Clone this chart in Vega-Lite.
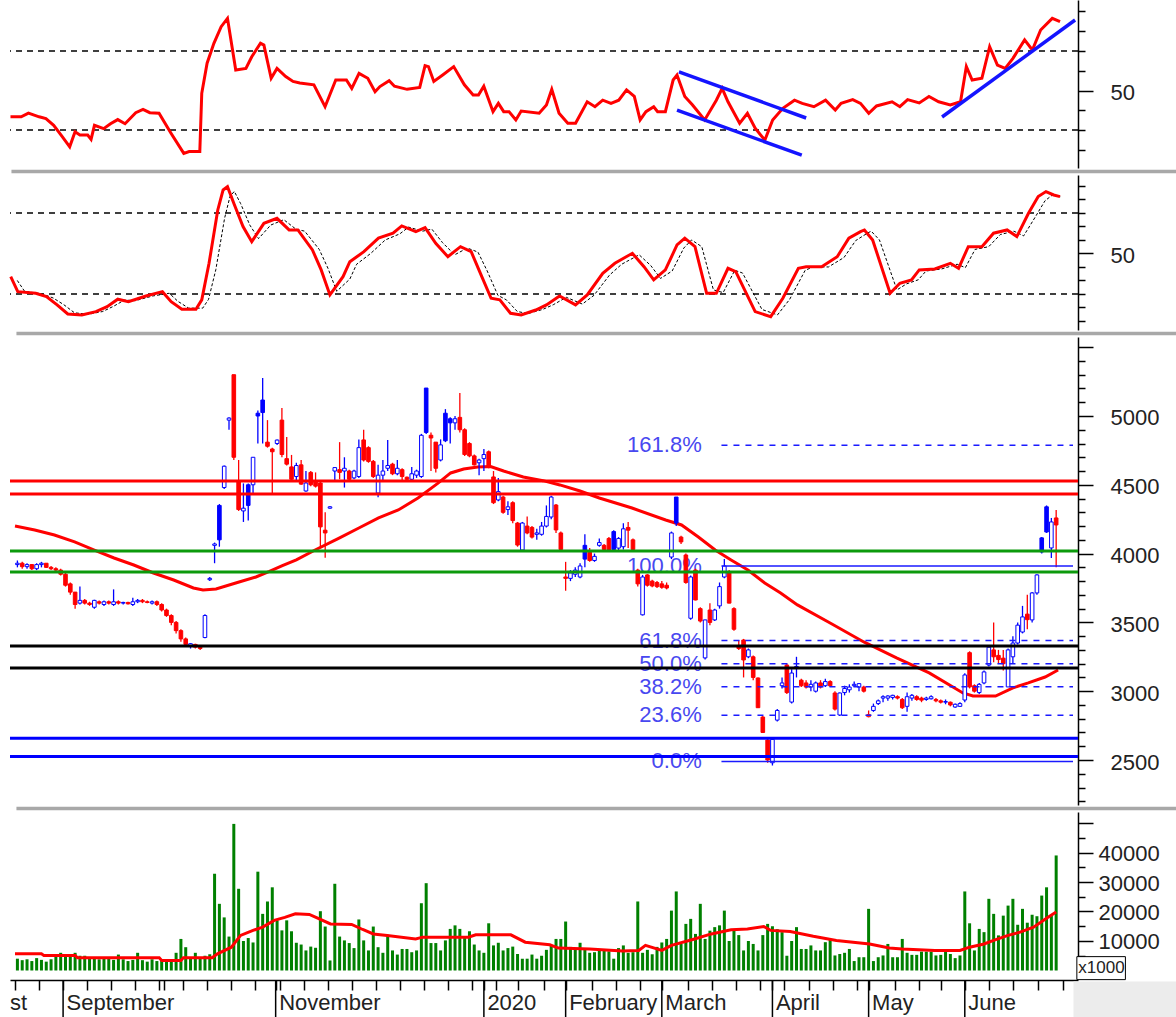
{
"$schema": "https://vega.github.io/schema/vega-lite/v6.json",
"padding": {"left": 4, "top": 0, "right": 0, "bottom": 0},
"background": "white",
"bounds": "flush",
"spacing": 7,
"config": {"view": {"stroke": null}, "font": "Liberation Sans", "axis": {"labelFont": "Liberation Sans"}},
"datasets": {
"candles": [
{"i":0,"o":3920,"h":3950,"l":3900,"c":3930,"v":4000},{"i":1,"o":3930,"h":3940,"l":3890,"c":3905,"v":3500},{"i":2,"o":3905,"h":3930,"l":3890,"c":3920,"v":3800},{"i":3,"o":3920,"h":3925,"l":3880,"c":3890,"v":3200},{"i":4,"o":3890,"h":3930,"l":3880,"c":3920,"v":4200},{"i":5,"o":3920,"h":3940,"l":3900,"c":3930,"v":3600},{"i":6,"o":3930,"h":3930,"l":3895,"c":3900,"v":3000},{"i":7,"o":3900,"h":3910,"l":3880,"c":3890,"v":3800},{"i":8,"o":3890,"h":3900,"l":3870,"c":3880,"v":4600},{"i":9,"o":3880,"h":3890,"l":3840,"c":3850,"v":6000},
{"i":10,"o":3850,"h":3860,"l":3760,"c":3770,"v":4800},{"i":11,"o":3780,"h":3790,"l":3700,"c":3720,"v":5500},{"i":12,"o":3720,"h":3720,"l":3600,"c":3630,"v":6000},{"i":13,"o":3640,"h":3760,"l":3630,"c":3660,"v":5000},{"i":14,"o":3660,"h":3670,"l":3630,"c":3640,"v":5000},{"i":15,"o":3640,"h":3650,"l":3620,"c":3630,"v":4500},{"i":16,"o":3610,"h":3665,"l":3600,"c":3660,"v":4000},{"i":17,"o":3650,"h":3660,"l":3630,"c":3640,"v":3800},{"i":18,"o":3630,"h":3660,"l":3620,"c":3650,"v":4200},{"i":19,"o":3650,"h":3660,"l":3630,"c":3640,"v":4000},
{"i":20,"o":3630,"h":3740,"l":3620,"c":3650,"v":3600},{"i":21,"o":3650,"h":3660,"l":3630,"c":3640,"v":5400},{"i":22,"o":3640,"h":3650,"l":3630,"c":3645,"v":3800},{"i":23,"o":3645,"h":3650,"l":3630,"c":3635,"v":3200},{"i":24,"o":3630,"h":3680,"l":3620,"c":3650,"v":3600},{"i":25,"o":3650,"h":3670,"l":3640,"c":3660,"v":6000},{"i":26,"o":3660,"h":3670,"l":3640,"c":3650,"v":3500},{"i":27,"o":3650,"h":3660,"l":3640,"c":3645,"v":3000},{"i":28,"o":3640,"h":3660,"l":3630,"c":3650,"v":3800},{"i":29,"o":3650,"h":3660,"l":3620,"c":3630,"v":3200},
{"i":30,"o":3630,"h":3640,"l":3580,"c":3590,"v":3500},{"i":31,"o":3590,"h":3600,"l":3540,"c":3550,"v":3000},{"i":32,"o":3550,"h":3560,"l":3480,"c":3500,"v":3600},{"i":33,"o":3500,"h":3510,"l":3420,"c":3440,"v":6000},{"i":34,"o":3440,"h":3450,"l":3360,"c":3380,"v":10700},{"i":35,"o":3380,"h":3390,"l":3330,"c":3340,"v":7900},{"i":36,"o":3330,"h":3350,"l":3310,"c":3345,"v":4500},{"i":37,"o":3340,"h":3345,"l":3310,"c":3320,"v":6000},{"i":38,"o":3320,"h":3330,"l":3300,"c":3310,"v":4500},{"i":39,"o":3390,"h":3560,"l":3385,"c":3550,"v":5000},
{"i":40,"o":3810,"h":3830,"l":3800,"c":3820,"v":5500},{"i":41,"o":4060,"h":4080,"l":3930,"c":4070,"v":32800},{"i":42,"o":4350,"h":4360,"l":4050,"c":4100,"v":22600},{"i":43,"o":4480,"h":4640,"l":4470,"c":4635,"v":18000},{"i":44,"o":4970,"h":4990,"l":4900,"c":4985,"v":11500},{"i":45,"o":5300,"h":5300,"l":4680,"c":4700,"v":49700},{"i":46,"o":4520,"h":4680,"l":4310,"c":4320,"v":27700},{"i":47,"o":4310,"h":4510,"l":4230,"c":4330,"v":10000},{"i":48,"o":4500,"h":4510,"l":4240,"c":4350,"v":11000},{"i":49,"o":4500,"h":4700,"l":4440,"c":4700,"v":9500},
{"i":50,"o":5020,"h":5040,"l":4800,"c":5000,"v":33500},{"i":51,"o":5116,"h":5276,"l":4800,"c":5025,"v":19200},{"i":52,"o":4810,"h":4970,"l":4770,"c":4780,"v":23400},{"i":53,"o":4760,"h":4770,"l":4440,"c":4740,"v":28200},{"i":54,"o":4800,"h":4830,"l":4790,"c":4825,"v":17000},{"i":55,"o":4970,"h":5058,"l":4700,"c":4720,"v":13600},{"i":56,"o":4690,"h":4848,"l":4640,"c":4650,"v":17000},{"i":57,"o":4630,"h":4717,"l":4535,"c":4540,"v":13300},{"i":58,"o":4560,"h":4660,"l":4535,"c":4640,"v":9400},{"i":59,"o":4645,"h":4680,"l":4500,"c":4505,"v":8800},
{"i":60,"o":4455,"h":4600,"l":4450,"c":4513,"v":6800},{"i":61,"o":4590,"h":4600,"l":4490,"c":4500,"v":8100},{"i":62,"o":4520,"h":4590,"l":4480,"c":4490,"v":7700},{"i":63,"o":4513,"h":4520,"l":4050,"c":4194,"v":20100},{"i":64,"o":4170,"h":4300,"l":3970,"c":4150,"v":14900},{"i":65,"o":4330,"h":4345,"l":4325,"c":4340,"v":3400},{"i":66,"o":4600,"h":4630,"l":4535,"c":4625,"v":29400},{"i":67,"o":4610,"h":4810,"l":4540,"c":4590,"v":11500},{"i":68,"o":4600,"h":4700,"l":4480,"c":4620,"v":10200},{"i":69,"o":4600,"h":4610,"l":4530,"c":4540,"v":9300},
{"i":70,"o":4550,"h":4610,"l":4540,"c":4600,"v":7600},{"i":71,"o":4560,"h":4830,"l":4550,"c":4770,"v":17300},{"i":72,"o":4826,"h":4900,"l":4670,"c":4680,"v":10200},{"i":73,"o":4770,"h":4780,"l":4660,"c":4670,"v":6800},{"i":74,"o":4670,"h":4680,"l":4550,"c":4560,"v":14900},{"i":75,"o":4440,"h":4645,"l":4410,"c":4570,"v":7900},{"i":76,"o":4570,"h":4680,"l":4530,"c":4600,"v":6000},{"i":77,"o":4620,"h":4826,"l":4600,"c":4640,"v":12100},{"i":78,"o":4650,"h":4660,"l":4570,"c":4580,"v":6800},{"i":79,"o":4580,"h":4680,"l":4570,"c":4620,"v":5400},
{"i":80,"o":4610,"h":4620,"l":4530,"c":4560,"v":7300},{"i":81,"o":4555,"h":4560,"l":4530,"c":4540,"v":7300},{"i":82,"o":4540,"h":4630,"l":4530,"c":4580,"v":6200},{"i":83,"o":4570,"h":4610,"l":4550,"c":4600,"v":6800},{"i":84,"o":4560,"h":4870,"l":4550,"c":4860,"v":22800},{"i":85,"o":5203,"h":5203,"l":4870,"c":4880,"v":29600},{"i":86,"o":4860,"h":4880,"l":4600,"c":4840,"v":9300},{"i":87,"o":4810,"h":4810,"l":4590,"c":4620,"v":9300},{"i":88,"o":4680,"h":4830,"l":4670,"c":4790,"v":6800},{"i":89,"o":5020,"h":5050,"l":4810,"c":4820,"v":10200},
{"i":90,"o":4980,"h":4990,"l":4800,"c":4950,"v":14100},{"i":91,"o":4950,"h":5000,"l":4900,"c":4980,"v":15300},{"i":92,"o":4990,"h":5167,"l":4880,"c":4900,"v":14100},{"i":93,"o":4900,"h":4910,"l":4710,"c":4720,"v":11000},{"i":94,"o":4800,"h":4810,"l":4700,"c":4710,"v":13300},{"i":95,"o":4710,"h":4720,"l":4640,"c":4645,"v":8800},{"i":96,"o":4660,"h":4690,"l":4570,"c":4680,"v":6800},{"i":97,"o":4690,"h":4760,"l":4600,"c":4720,"v":6000},{"i":98,"o":4740,"h":4750,"l":4620,"c":4630,"v":16000},{"i":99,"o":4557,"h":4600,"l":4360,"c":4370,"v":8500},
{"i":100,"o":4390,"h":4550,"l":4380,"c":4450,"v":9400},{"i":101,"o":4411,"h":4420,"l":4290,"c":4300,"v":6800},{"i":102,"o":4320,"h":4380,"l":4280,"c":4340,"v":7600},{"i":103,"o":4370,"h":4380,"l":4220,"c":4240,"v":8100},{"i":104,"o":4222,"h":4230,"l":4050,"c":4062,"v":5600},{"i":105,"o":4026,"h":4230,"l":4020,"c":4222,"v":4000},{"i":106,"o":4200,"h":4270,"l":4140,"c":4150,"v":4000},{"i":107,"o":4190,"h":4200,"l":4110,"c":4120,"v":5400},{"i":108,"o":4140,"h":4180,"l":4100,"c":4150,"v":4000},{"i":109,"o":4140,"h":4230,"l":4130,"c":4200,"v":5000},
{"i":110,"o":4200,"h":4350,"l":4190,"c":4270,"v":7000},{"i":111,"o":4266,"h":4420,"l":4250,"c":4411,"v":8500},{"i":112,"o":4353,"h":4360,"l":4150,"c":4172,"v":10700},{"i":113,"o":4150,"h":4160,"l":4020,"c":4030,"v":10700},{"i":114,"o":3830,"h":3940,"l":3730,"c":3820,"v":16600},{"i":115,"o":3820,"h":3880,"l":3800,"c":3860,"v":8000},{"i":116,"o":3850,"h":3900,"l":3830,"c":3880,"v":7000},{"i":117,"o":3830,"h":3930,"l":3820,"c":3910,"v":9400},{"i":118,"o":4060,"h":4140,"l":3900,"c":3960,"v":7600},{"i":119,"o":4010,"h":4040,"l":3940,"c":3950,"v":6000},
{"i":120,"o":3950,"h":4000,"l":3940,"c":3980,"v":6200},{"i":121,"o":4060,"h":4110,"l":4050,"c":4080,"v":7000},{"i":122,"o":4060,"h":4070,"l":4020,"c":4030,"v":7200},{"i":123,"o":4110,"h":4120,"l":4020,"c":4025,"v":6500},{"i":124,"o":4160,"h":4170,"l":4020,"c":4030,"v":4000},{"i":125,"o":4040,"h":4120,"l":4020,"c":4110,"v":7600},{"i":126,"o":4050,"h":4220,"l":4030,"c":4180,"v":8500},{"i":127,"o":4190,"h":4230,"l":4040,"c":4170,"v":6000},{"i":128,"o":4100,"h":4110,"l":4020,"c":4030,"v":6200},{"i":129,"o":3880,"h":3890,"l":3760,"c":3780,"v":23400},
{"i":130,"o":3555,"h":3845,"l":3550,"c":3830,"v":6000},{"i":131,"o":3845,"h":3850,"l":3760,"c":3770,"v":7000},{"i":132,"o":3800,"h":3810,"l":3755,"c":3765,"v":5500},{"i":133,"o":3790,"h":3800,"l":3750,"c":3760,"v":8000},{"i":134,"o":3780,"h":3800,"l":3745,"c":3755,"v":9500},{"i":135,"o":3770,"h":3790,"l":3740,"c":3750,"v":10700},{"i":136,"o":3975,"h":4160,"l":3960,"c":4150,"v":20300},{"i":137,"o":4411,"h":4411,"l":4200,"c":4222,"v":26800},{"i":138,"o":4120,"h":4130,"l":4070,"c":4085,"v":9000},{"i":139,"o":3990,"h":4000,"l":3780,"c":3790,"v":15800},
{"i":140,"o":3530,"h":3840,"l":3520,"c":3830,"v":17500},{"i":141,"o":3880,"h":3890,"l":3660,"c":3663,"v":12400},{"i":142,"o":3600,"h":3610,"l":3500,"c":3510,"v":22600},{"i":143,"o":3242,"h":3520,"l":3230,"c":3518,"v":10700},{"i":144,"o":3590,"h":3640,"l":3480,"c":3500,"v":13500},{"i":145,"o":3518,"h":3600,"l":3510,"c":3590,"v":14700},{"i":146,"o":3620,"h":3790,"l":3600,"c":3760,"v":15300},{"i":147,"o":3830,"h":3960,"l":3820,"c":3910,"v":20300},{"i":148,"o":3860,"h":3880,"l":3640,"c":3640,"v":10000},{"i":149,"o":3600,"h":3610,"l":3440,"c":3450,"v":14000},
{"i":150,"o":3330,"h":3370,"l":3300,"c":3310,"v":12000},{"i":151,"o":3372,"h":3380,"l":3100,"c":3227,"v":6800},{"i":152,"o":3250,"h":3310,"l":3240,"c":3300,"v":10000},{"i":153,"o":3250,"h":3260,"l":3080,"c":3100,"v":9000},{"i":154,"o":3096,"h":3100,"l":2878,"c":2880,"v":6800},{"i":155,"o":2812,"h":2820,"l":2696,"c":2700,"v":12000},{"i":156,"o":2645,"h":2660,"l":2480,"c":2500,"v":15800},{"i":157,"o":2480,"h":2660,"l":2460,"c":2650,"v":15000},{"i":158,"o":2790,"h":2870,"l":2780,"c":2860,"v":14000},{"i":159,"o":3040,"h":3100,"l":3020,"c":3060,"v":13000},
{"i":160,"o":3190,"h":3200,"l":2980,"c":2990,"v":5000},{"i":161,"o":2921,"h":3160,"l":2910,"c":3132,"v":10000},{"i":162,"o":3170,"h":3250,"l":3100,"c":3180,"v":14700},{"i":163,"o":3080,"h":3090,"l":3030,"c":3040,"v":7300},{"i":164,"o":3060,"h":3080,"l":3020,"c":3030,"v":7300},{"i":165,"o":3030,"h":3080,"l":3000,"c":3050,"v":8500},{"i":166,"o":3000,"h":3070,"l":2990,"c":3060,"v":6800},{"i":167,"o":3060,"h":3080,"l":3020,"c":3030,"v":6800},{"i":168,"o":3040,"h":3090,"l":3030,"c":3070,"v":9600},{"i":169,"o":3070,"h":3080,"l":3030,"c":3040,"v":10700},
{"i":170,"o":2987,"h":3000,"l":2860,"c":2870,"v":5100},{"i":171,"o":2827,"h":2990,"l":2820,"c":2987,"v":5600},{"i":172,"o":2990,"h":3040,"l":2970,"c":3020,"v":6000},{"i":173,"o":3010,"h":3050,"l":2990,"c":3030,"v":7300},{"i":174,"o":3040,"h":3070,"l":3030,"c":3050,"v":3200},{"i":175,"o":3030,"h":3060,"l":3000,"c":3055,"v":4500},{"i":176,"o":3030,"h":3040,"l":2990,"c":3000,"v":4500},{"i":177,"o":2815,"h":2860,"l":2810,"c":2830,"v":20900},{"i":178,"o":2860,"h":2910,"l":2850,"c":2890,"v":3200},{"i":179,"o":2910,"h":2940,"l":2900,"c":2930,"v":4500},
{"i":180,"o":2950,"h":2970,"l":2920,"c":2960,"v":5100},{"i":181,"o":2950,"h":2970,"l":2930,"c":2965,"v":9000},{"i":182,"o":2955,"h":2975,"l":2940,"c":2970,"v":4500},{"i":183,"o":2960,"h":2970,"l":2940,"c":2950,"v":4500},{"i":184,"o":2940,"h":2950,"l":2870,"c":2880,"v":10700},{"i":185,"o":2890,"h":2990,"l":2850,"c":2960,"v":6000},{"i":186,"o":2950,"h":2980,"l":2930,"c":2970,"v":5300},{"i":187,"o":2960,"h":2970,"l":2930,"c":2940,"v":5300},{"i":188,"o":2950,"h":2960,"l":2920,"c":2935,"v":6400},{"i":189,"o":2940,"h":2960,"l":2930,"c":2950,"v":6400},
{"i":190,"o":2945,"h":2970,"l":2940,"c":2960,"v":6400},{"i":191,"o":2940,"h":2950,"l":2920,"c":2930,"v":5100},{"i":192,"o":2930,"h":2940,"l":2910,"c":2920,"v":5300},{"i":193,"o":2920,"h":2940,"l":2905,"c":2925,"v":6400},{"i":194,"o":2920,"h":2925,"l":2890,"c":2900,"v":5600},{"i":195,"o":2885,"h":2910,"l":2880,"c":2905,"v":4200},{"i":196,"o":2890,"h":2920,"l":2885,"c":2910,"v":5100},{"i":197,"o":2936,"h":3130,"l":2920,"c":3118,"v":26800},{"i":198,"o":3280,"h":3290,"l":3020,"c":3031,"v":16000},{"i":199,"o":3040,"h":3050,"l":2990,"c":3000,"v":6800},
{"i":200,"o":2990,"h":3060,"l":2980,"c":3050,"v":14100},{"i":201,"o":3060,"h":3150,"l":3050,"c":3140,"v":13000},{"i":202,"o":3190,"h":3330,"l":3180,"c":3320,"v":24300},{"i":203,"o":3300,"h":3500,"l":3210,"c":3250,"v":19200},{"i":204,"o":3260,"h":3300,"l":3200,"c":3230,"v":11900},{"i":205,"o":3240,"h":3300,"l":3150,"c":3200,"v":18600},{"i":206,"o":3031,"h":3310,"l":3030,"c":3300,"v":22000},{"i":207,"o":3250,"h":3400,"l":3200,"c":3350,"v":24300},{"i":208,"o":3350,"h":3500,"l":3340,"c":3480,"v":15500},{"i":209,"o":3430,"h":3620,"l":3420,"c":3540,"v":20900},
{"i":210,"o":3560,"h":3700,"l":3450,"c":3520,"v":16200},{"i":211,"o":3518,"h":3720,"l":3500,"c":3714,"v":18900},{"i":212,"o":3714,"h":3850,"l":3700,"c":3845,"v":18400},{"i":213,"o":4114,"h":4120,"l":4000,"c":4012,"v":25400},{"i":214,"o":4340,"h":4350,"l":4150,"c":4157,"v":28200},{"i":215,"o":4041,"h":4259,"l":3968,"c":4230,"v":18600},{"i":216,"o":4259,"h":4317,"l":3900,"c":4208,"v":39000}
],
"rsi": [
{"t":-0.4,"r":36.7},{"t":1.8,"r":36.7},{"t":3.3,"r":38.6},{"t":5.5,"r":36.7},{"t":6.9,"r":35.8},{"t":8.5,"r":32.4},{"t":10.3,"r":26.6},{"t":11.8,"r":21.5},{"t":12.9,"r":29.1},{"t":13.9,"r":27.5},{"t":15.5,"r":27.5},{"t":16.2,"r":25.3},{"t":16.9,"r":32.4},{"t":18.8,"r":30.7},{"t":20.2,"r":33.2},{"t":21.7,"r":35.3},{"t":23.2,"r":33.2},{"t":25.4,"r":38.8},{"t":26.9,"r":40.5},{"t":28.3,"r":38.8},{"t":30.2,"r":38.5},{"t":32.7,"r":28.3},{"t":35.3,"r":18.2},{"t":36.4,"r":19.1},{"t":38.6,"r":19.1},{"t":39,"r":48.6},{"t":40.1,"r":63.8},{"t":41.5,"r":73.9},{"t":43,"r":82.3},{"t":44.3,"r":86.5},{"t":46,"r":60.4},{"t":48.1,"r":61.2},{"t":49.3,"r":67.1},{"t":51.1,"r":73.9},{"t":51.8,"r":73},{"t":53.3,"r":56.2},{"t":54.5,"r":61.2},{"t":56.3,"r":57.1},{"t":57.8,"r":54.6},{"t":59.2,"r":53.8},{"t":62.1,"r":52.9},{"t":64.4,"r":41.8},{"t":66.6,"r":55.3},{"t":68.8,"r":55.3},{"t":69.9,"r":51.1},{"t":71.4,"r":58.7},{"t":73.2,"r":56.2},{"t":74.7,"r":49.4},{"t":75.7,"r":52},{"t":77.6,"r":55},{"t":78.7,"r":52.2},{"t":81.3,"r":50.6},{"t":83.9,"r":51.6},{"t":85,"r":62.6},{"t":85.7,"r":62.1},{"t":86.8,"r":54.6},{"t":88.7,"r":58},{"t":90.9,"r":62.1},{"t":93.1,"r":52.9},{"t":94.9,"r":47.7},{"t":96,"r":47.7},{"t":97.1,"r":52.2},{"t":99,"r":39.3},{"t":100.1,"r":43.5},{"t":101.2,"r":39.3},{"t":102.3,"r":39.3},{"t":103.7,"r":35.1},{"t":104.8,"r":39.6},{"t":108.5,"r":38.5},{"t":110,"r":42.7},{"t":111.1,"r":50.6},{"t":112.6,"r":38.5},{"t":114.4,"r":33.4},{"t":116,"r":33.4},{"t":118.4,"r":44.3},{"t":120,"r":41.8},{"t":121.6,"r":45.1},{"t":123.3,"r":43.5},{"t":124.9,"r":45.1},{"t":126.5,"r":50.3},{"t":128.1,"r":47},{"t":129.3,"r":35.1},{"t":130.5,"r":39.3},{"t":132.1,"r":41.8},{"t":132.9,"r":39.3},{"t":134.5,"r":39.3},{"t":136.1,"r":55.3},{"t":136.9,"r":57.8},{"t":138.5,"r":47},{"t":140.1,"r":42.7},{"t":142.6,"r":35.1},{"t":145,"r":45.1},{"t":146.2,"r":51.1},{"t":147.4,"r":44.3},{"t":149.8,"r":33.4},{"t":151.4,"r":38.5},{"t":153,"r":30.9},{"t":155,"r":24.9},{"t":156.6,"r":35.1},{"t":158.7,"r":41},{"t":161.1,"r":45.1},{"t":162.7,"r":43.5},{"t":165.1,"r":41.8},{"t":167.5,"r":45.1},{"t":169.5,"r":40.1},{"t":170.7,"r":43.5},{"t":173.1,"r":45.4},{"t":174.7,"r":43.5},{"t":176.4,"r":38.5},{"t":178,"r":42.2},{"t":181.2,"r":44.3},{"t":182.8,"r":41.8},{"t":184.4,"r":45.4},{"t":186.8,"r":43.7},{"t":188.8,"r":47},{"t":190.8,"r":44.3},{"t":193.2,"r":42.7},{"t":195.3,"r":44.3},{"t":196.5,"r":62.1},{"t":197.7,"r":55.3},{"t":199.7,"r":56.2},{"t":201.3,"r":72.2},{"t":202.9,"r":62.9},{"t":204.5,"r":61.2},{"t":206.1,"r":66.3},{"t":208.5,"r":75.6},{"t":210.1,"r":70.5},{"t":211.8,"r":80.6},{"t":214.2,"r":86.5},{"t":215.8,"r":84.8}
],
"trend": [
{"s":"a","t":137.3,"r":59.4},{"s":"a","t":163.5,"r":36.1},{"s":"b","t":136.9,"r":40.1},{"s":"b","t":162.6,"r":17.3},{"s":"c","t":191.5,"r":36.6},{"s":"c","t":218.9,"r":85.7}
],
"stk": [
{"t":-0.35,"k":32.8},{"t":1.1,"k":21.7},{"t":4.8,"k":20.5},{"t":7,"k":18},{"t":9.2,"k":11.9},{"t":11.4,"k":5.2},{"t":14.3,"k":4.4},{"t":17.2,"k":6.9},{"t":19.5,"k":10.6},{"t":21.7,"k":16.1},{"t":23.9,"k":14.3},{"t":27.5,"k":18.5},{"t":30.9,"k":21.7},{"t":32.7,"k":14.3},{"t":34.9,"k":8.7},{"t":37.8,"k":8.7},{"t":39,"k":15.6},{"t":40.5,"k":42.7},{"t":42.3,"k":82.2},{"t":43.4,"k":97},{"t":44.3,"k":99.5},{"t":45.6,"k":87.2},{"t":47.5,"k":69.9},{"t":49.3,"k":58.7},{"t":51.8,"k":72.3},{"t":54.5,"k":76},{"t":57,"k":67.4},{"t":58.8,"k":67.4},{"t":61.8,"k":52.6},{"t":63.6,"k":37.8},{"t":65.4,"k":19.3},{"t":68.1,"k":32.8},{"t":69.5,"k":43.9},{"t":72.4,"k":51.3},{"t":75.4,"k":61.3},{"t":78.4,"k":65},{"t":80.2,"k":70.4},{"t":83.1,"k":66.2},{"t":85,"k":69.1},{"t":87.2,"k":57.5},{"t":89.7,"k":47.6},{"t":92.3,"k":55},{"t":94.5,"k":51.3},{"t":96.4,"k":35.3},{"t":98.6,"k":16.8},{"t":100.4,"k":15.6},{"t":102.6,"k":5.7},{"t":104.8,"k":4.4},{"t":107.8,"k":8.1},{"t":110,"k":11.9},{"t":112.7,"k":18.5},{"t":116,"k":11.9},{"t":118.4,"k":19.3},{"t":121.6,"k":35.3},{"t":124.1,"k":42.7},{"t":127.7,"k":50.1},{"t":130.1,"k":40.2},{"t":132.1,"k":30.4},{"t":134.5,"k":37.8},{"t":136.9,"k":56.3},{"t":138.5,"k":61.3},{"t":140.6,"k":55},{"t":143,"k":20.5},{"t":145,"k":20.5},{"t":147.4,"k":39},{"t":149,"k":36.5},{"t":153,"k":6.9},{"t":156.2,"k":3.2},{"t":158.7,"k":16.8},{"t":161.9,"k":39},{"t":163.5,"k":40.2},{"t":166.7,"k":40.2},{"t":169.9,"k":47.6},{"t":172.3,"k":61.3},{"t":174.7,"k":66.2},{"t":175.5,"k":67.4},{"t":177.2,"k":60},{"t":180.8,"k":20.5},{"t":182.8,"k":27.9},{"t":185.2,"k":30.4},{"t":186.8,"k":37.8},{"t":190,"k":38.5},{"t":193.2,"k":42.7},{"t":194.9,"k":39},{"t":196.9,"k":55},{"t":199.7,"k":55},{"t":202.1,"k":65},{"t":204.9,"k":67.4},{"t":206.9,"k":62.5},{"t":209.3,"k":79.8},{"t":211.3,"k":92.1},{"t":212.9,"k":95.8},{"t":214.5,"k":93.3},{"t":215.8,"k":92.1}
],
"std": [
{"t":1,"d":30},{"t":2.5,"d":22},{"t":6.2,"d":20},{"t":8.4,"d":17},{"t":10.6,"d":12},{"t":12.8,"d":6},{"t":15.7,"d":5},{"t":18.6,"d":7},{"t":20.9,"d":11},{"t":23.1,"d":15.5},{"t":25.3,"d":15},{"t":28.9,"d":18.5},{"t":32.3,"d":20.5},{"t":34.1,"d":14.5},{"t":36.3,"d":9.5},{"t":39.2,"d":9.5},{"t":40.4,"d":16},{"t":41.9,"d":38},{"t":43.7,"d":76},{"t":44.8,"d":92},{"t":45.7,"d":96},{"t":47,"d":87},{"t":48.9,"d":71},{"t":50.7,"d":61},{"t":53.2,"d":71},{"t":55.9,"d":75},{"t":58.4,"d":68},{"t":60.2,"d":66.5},{"t":63.2,"d":53},{"t":65,"d":39},{"t":66.8,"d":22},{"t":69.5,"d":31},{"t":70.9,"d":42},{"t":73.8,"d":50},{"t":76.8,"d":60},{"t":79.8,"d":64.5},{"t":81.6,"d":69.5},{"t":84.5,"d":66.5},{"t":86.4,"d":68},{"t":88.6,"d":58},{"t":91.1,"d":49},{"t":93.7,"d":54},{"t":95.9,"d":51},{"t":97.8,"d":37},{"t":100,"d":19},{"t":101.8,"d":15.5},{"t":104,"d":7},{"t":106.2,"d":5.5},{"t":109.2,"d":8.5},{"t":111.4,"d":12},{"t":114.1,"d":17.5},{"t":117.4,"d":12.5},{"t":119.8,"d":19},{"t":123,"d":34},{"t":125.5,"d":42},{"t":129.1,"d":49},{"t":131.5,"d":41},{"t":133.5,"d":31.5},{"t":135.9,"d":37},{"t":138.3,"d":54},{"t":139.9,"d":60},{"t":142,"d":55},{"t":144.4,"d":23},{"t":146.4,"d":21},{"t":148.8,"d":37.5},{"t":150.4,"d":35.5},{"t":154.4,"d":8.5},{"t":157.6,"d":4.5},{"t":160.1,"d":16},{"t":163.3,"d":37.5},{"t":164.9,"d":40},{"t":168.1,"d":40},{"t":171.3,"d":47},{"t":173.7,"d":59.5},{"t":176.1,"d":65},{"t":176.9,"d":66.5},{"t":178.6,"d":60},{"t":182.2,"d":23},{"t":184.2,"d":27.5},{"t":186.6,"d":30.5},{"t":188.2,"d":37},{"t":191.4,"d":38.5},{"t":194.6,"d":42},{"t":196.3,"d":39.5},{"t":198.3,"d":53},{"t":201.1,"d":55},{"t":203.5,"d":64},{"t":206.3,"d":66.5},{"t":208.3,"d":63},{"t":210.7,"d":77},{"t":212.7,"d":89},{"t":214.3,"d":93.5},{"t":215.9,"d":92}
],
"ma": [
{"t":-0.5,"m":4200},{"t":3.6,"m":4172},{"t":7.7,"m":4135},{"t":11.9,"m":4085},{"t":16,"m":4026},{"t":20.1,"m":3968},{"t":24.2,"m":3917},{"t":28.3,"m":3859},{"t":32.5,"m":3808},{"t":36.6,"m":3750},{"t":38.6,"m":3736},{"t":41.3,"m":3743},{"t":45.4,"m":3786},{"t":49.6,"m":3830},{"t":52.4,"m":3870},{"t":55.1,"m":3912},{"t":58,"m":3955},{"t":61.9,"m":4026},{"t":66.9,"m":4113},{"t":71,"m":4186},{"t":75.1,"m":4259},{"t":79.2,"m":4317},{"t":83.3,"m":4404},{"t":87.4,"m":4510},{"t":90.1,"m":4586},{"t":92.8,"m":4615},{"t":95.7,"m":4630},{"t":98.4,"m":4632},{"t":101.1,"m":4600},{"t":105.2,"m":4557},{"t":109.3,"m":4530},{"t":112.8,"m":4499},{"t":117,"m":4455},{"t":121,"m":4404},{"t":127.8,"m":4331},{"t":134.8,"m":4244},{"t":138.1,"m":4208},{"t":141.6,"m":4121},{"t":145.1,"m":4026},{"t":148.4,"m":3954},{"t":151.9,"m":3881},{"t":155.4,"m":3786},{"t":158.7,"m":3714},{"t":162.2,"m":3627},{"t":169,"m":3496},{"t":176,"m":3358},{"t":182.8,"m":3242},{"t":189.6,"m":3133},{"t":196.6,"m":2987},{"t":198.7,"m":2965},{"t":203.4,"m":2965},{"t":206.9,"m":3023},{"t":210.2,"m":3060},{"t":213.7,"m":3103},{"t":216.4,"m":3154}
],
"vma": [
{"t":-0.5,"w":5650},{"t":5,"w":5650},{"t":5.5,"w":5100},{"t":12,"w":5100},{"t":12.5,"w":4300},{"t":29.5,"w":4300},{"t":30,"w":3400},{"t":34,"w":3400},{"t":34.5,"w":4300},{"t":40.5,"w":4300},{"t":41.6,"w":5650},{"t":44.5,"w":7900},{"t":46.4,"w":11900},{"t":49,"w":13600},{"t":51,"w":14700},{"t":53.4,"w":17000},{"t":55.6,"w":18000},{"t":57.8,"w":19200},{"t":60.7,"w":19000},{"t":62.2,"w":17900},{"t":65.1,"w":15800},{"t":69.5,"w":15600},{"t":71.8,"w":13900},{"t":74,"w":12400},{"t":76.9,"w":11900},{"t":82.8,"w":10700},{"t":84.3,"w":11300},{"t":93.8,"w":11300},{"t":95.3,"w":12100},{"t":102.6,"w":12100},{"t":105.6,"w":9600},{"t":110.7,"w":8700},{"t":112.5,"w":7600},{"t":119,"w":7300},{"t":125.8,"w":6600},{"t":129.2,"w":6800},{"t":130.6,"w":8500},{"t":134,"w":6800},{"t":136,"w":8500},{"t":140.8,"w":10700},{"t":144.3,"w":12400},{"t":148.4,"w":13800},{"t":151.8,"w":14100},{"t":155.2,"w":14900},{"t":156.6,"w":13600},{"t":160.7,"w":13200},{"t":165.5,"w":11600},{"t":170.3,"w":10200},{"t":177.2,"w":9000},{"t":181.3,"w":7600},{"t":184,"w":7300},{"t":190.8,"w":6800},{"t":196,"w":6800},{"t":198,"w":7900},{"t":201,"w":9000},{"t":203,"w":10200},{"t":206,"w":11900},{"t":208.5,"w":13000},{"t":211.3,"w":14700},{"t":214,"w":17700},{"t":216,"w":19800}
],
"levels": [
{"p":4528,"k":"r"},{"p":4433,"k":"r"},{"p":4019,"k":"g"},{"p":3866,"k":"g"},{"p":3328,"k":"k"},{"p":3169,"k":"k"},{"p":2658,"k":"b"},{"p":2526,"k":"b"}
],
"fib": [
{"lvl":"0.0%","p":2490},{"lvl":"23.6%","p":2825},{"lvl":"38.2%","p":3032},{"lvl":"50.0%","p":3200},{"lvl":"61.8%","p":3368},{"lvl":"100.0%","p":3910},{"lvl":"161.8%","p":4788}
],
"months": [
{"t":9.5},{"t":53.7},{"t":97},{"t":114},{"t":134},{"t":157},{"t":177},{"t":197}
]
},
"vconcat": [
{
"width": 1068, "height": 168,
"layer": [
{"data": {"values": [{"r":70},{"r":30}]},
 "mark": {"type": "rule", "color": "black", "strokeWidth": 1.5, "strokeDash": [6,5]},
 "encoding": {
  "y": {"field": "r", "type": "quantitative", "title": null, "scale": {"domain": [10.8, 95.8], "nice": false, "zero": false},
   "axis": {"orient": "right", "values": [20,30,40,50,60,70,80,90], "tickCount": 200, "labelExpr": "datum.value == 50 ? '50' : ''", "tickSize": {"condition": {"test": "datum.value == 50", "value": 15}, "value": 7}, "labelPadding": 17, "grid": false, "title": null, "domainColor": "black", "domainWidth": 1.5, "tickColor": "black", "tickWidth": 1.5, "labelFontSize": 22, "labelColor": "#222222", "labelAlign": "left", "labelBaseline": "middle", "labelOffset": 2, "labelOverlap": false, "labelBound": false, "labelFlush": false}}
 }},
{"data": {"name": "rsi"},
 "mark": {"type": "line", "color": "#ff0000", "strokeWidth": 3},
 "encoding": {
  "x": {"field": "t", "type": "quantitative", "title": null, "axis": null, "scale": {"domain": [-0.5, 219.5], "nice": false, "zero": false}},
  "y": {"field": "r", "type": "quantitative", "title": null}
 }},
{"data": {"name": "trend"},
 "mark": {"type": "line", "color": "#1414ff", "strokeWidth": 3.5},
 "encoding": {
  "x": {"field": "t", "type": "quantitative", "title": null, "axis": null},
  "y": {"field": "r", "type": "quantitative", "title": null},
  "detail": {"field": "s", "type": "nominal"}
 }}
]
},
{
"width": 1068, "height": 155,
"layer": [
{"data": {"values": [{"k":80},{"k":20}]},
 "mark": {"type": "rule", "color": "black", "strokeWidth": 1.5, "strokeDash": [6,5]},
 "encoding": {
  "y": {"field": "k", "type": "quantitative", "title": null, "scale": {"domain": [-6.7, 108.1], "nice": false, "zero": false},
   "axis": {"orient": "right", "values": [0,10,20,30,40,50,60,70,80,90,100], "tickCount": 200, "labelExpr": "datum.value == 50 ? '50' : ''", "tickSize": {"condition": {"test": "datum.value == 50", "value": 15}, "value": 7}, "labelPadding": 17, "grid": false, "title": null, "domainColor": "black", "domainWidth": 1.5, "tickColor": "black", "tickWidth": 1.5, "labelFontSize": 22, "labelColor": "#222222", "labelAlign": "left", "labelBaseline": "middle", "labelOffset": 2, "labelOverlap": false, "labelBound": false, "labelFlush": false}}
 }},
{"data": {"values": [{}]},
 "mark": {"type": "rule", "color": "#a8a8a8", "strokeWidth": 3.5},
 "encoding": {
  "x": {"datum": -0.2, "type": "quantitative", "axis": null, "scale": {"domain": [-0.5, 219.5], "nice": false, "zero": false}},
  "x2": {"datum": 245},
  "y": {"datum": 110.7, "type": "quantitative", "title": null}
 }},
{"data": {"name": "std"},
 "mark": {"type": "line", "color": "black", "strokeWidth": 1, "strokeDash": [3,2]},
 "encoding": {
  "x": {"field": "t", "type": "quantitative", "title": null, "axis": null},
  "y": {"field": "d", "type": "quantitative", "title": null}
 }},
{"data": {"name": "stk"},
 "mark": {"type": "line", "color": "#ff0000", "strokeWidth": 3},
 "encoding": {
  "x": {"field": "t", "type": "quantitative", "title": null, "axis": null},
  "y": {"field": "k", "type": "quantitative", "title": null}
 }}
]
},
{
"width": 1068, "height": 468,
"layer": [
{"data": {"name": "fib"},
 "mark": {"type": "text", "align": "right", "baseline": "middle", "fontSize": 22, "color": "#4848f0"},
 "encoding": {
  "x": {"datum": 142.3, "type": "quantitative", "axis": null, "scale": {"domain": [-0.5, 219.5], "nice": false, "zero": false}},
  "y": {"field": "p", "type": "quantitative", "title": null, "scale": {"domain": [2173, 5574], "nice": false, "zero": false},
   "axis": {"orient": "right", "values": [2200,2300,2400,2500,2600,2700,2800,2900,3000,3100,3200,3300,3400,3500,3600,3700,3800,3900,4000,4100,4200,4300,4400,4500,4600,4700,4800,4900,5000,5100,5200,5300,5400,5500], "tickCount": 200, "labelExpr": "datum.value % 500 == 0 && datum.value >= 2500 && datum.value <= 5000 ? '' + datum.value : ''", "tickSize": {"condition": {"test": "datum.value % 500 == 0", "value": 15}, "value": 7}, "labelPadding": 17, "grid": false, "title": null, "domainColor": "black", "domainWidth": 1.5, "tickColor": "black", "tickWidth": 1.5, "labelFontSize": 22, "labelColor": "#222222", "labelAlign": "left", "labelBaseline": "middle", "labelOffset": 2, "labelOverlap": false, "labelBound": false, "labelFlush": false}},
  "text": {"field": "lvl", "type": "nominal"}
 }},
{"data": {"values": [{}]},
 "mark": {"type": "rule", "color": "#a8a8a8", "strokeWidth": 3.5},
 "encoding": {
  "x": {"datum": -0.2, "type": "quantitative", "axis": null},
  "x2": {"datum": 245},
  "y": {"datum": 5599, "type": "quantitative", "title": null}
 }},
{"data": {"name": "ma"},
 "mark": {"type": "line", "color": "#ff0000", "strokeWidth": 3},
 "encoding": {
  "x": {"field": "t", "type": "quantitative", "title": null, "axis": null},
  "y": {"field": "m", "type": "quantitative", "title": null}
 }},
{"data": {"name": "candles"},
 "transform": [{"window": [{"op": "lag", "field": "c", "as": "pc"}], "sort": [{"field": "i", "order": "ascending"}]}],
 "mark": {"type": "rule", "strokeWidth": 1.3},
 "encoding": {
  "x": {"field": "i", "type": "quantitative", "title": null, "axis": null},
  "y": {"field": "l", "type": "quantitative", "title": null},
  "y2": {"field": "h"},
  "color": {"condition": {"test": "datum.pc == null ? datum.c >= datum.o : datum.c >= datum.pc", "value": "#0000ff"}, "value": "#ff0000"}
 }},
{"data": {"name": "candles"},
 "transform": [{"window": [{"op": "lag", "field": "c", "as": "pc"}], "sort": [{"field": "i", "order": "ascending"}]}],
 "mark": {"type": "bar", "width": 3.6, "strokeWidth": 1},
 "encoding": {
  "x": {"field": "i", "type": "quantitative", "title": null, "axis": null},
  "y": {"field": "o", "type": "quantitative", "title": null},
  "y2": {"field": "c"},
  "fill": {"condition": [{"test": "datum.c > datum.o", "value": "#ffffff"}, {"test": "datum.pc == null ? datum.c >= datum.o : datum.c >= datum.pc", "value": "#0000ff"}], "value": "#ff0000"},
  "stroke": {"condition": {"test": "datum.pc == null ? datum.c >= datum.o : datum.c >= datum.pc", "value": "#0000ff"}, "value": "#ff0000"}
 }},
{"data": {"name": "levels"},
 "mark": {"type": "rule", "strokeWidth": 3},
 "encoding": {
  "y": {"field": "p", "type": "quantitative", "title": null},
  "color": {"field": "k", "type": "nominal", "legend": null, "scale": {"domain": ["r","g","k","b"], "range": ["#ff0000","#0c9a0c","#000000","#0000ff"]}}
 }},
{"data": {"name": "fib"},
 "transform": [{"filter": "datum.lvl != '0.0%' && datum.lvl != '100.0%'"}],
 "mark": {"type": "rule", "color": "#1a1aff", "strokeWidth": 1.5, "strokeDash": [6,6]},
 "encoding": {
  "x": {"datum": 146.4, "type": "quantitative", "axis": null},
  "x2": {"datum": 219.5},
  "y": {"field": "p", "type": "quantitative", "title": null}
 }},
{"data": {"name": "fib"},
 "transform": [{"filter": "datum.lvl == '0.0%' || datum.lvl == '100.0%'"}],
 "mark": {"type": "rule", "color": "#1a1aff", "strokeWidth": 1.5},
 "encoding": {
  "x": {"datum": 146.4, "type": "quantitative", "axis": null},
  "x2": {"datum": 219.5},
  "y": {"field": "p", "type": "quantitative", "title": null}
 }}
]
},
{
"width": 1068, "height": 160,
"layer": [
{"data": {"values": [{}]},
 "mark": {"type": "rule", "color": "#a8a8a8", "strokeWidth": 3.5},
 "encoding": {
  "x": {"datum": -0.2, "type": "quantitative", "title": null},
  "x2": {"datum": 245},
  "y": {"datum": 54917, "type": "quantitative", "title": null}
 }},
{"data": {"values": [{}]},
 "mark": {"type": "rect", "color": "#ececec"},
 "encoding": {
  "x": {"datum": 219.6, "type": "quantitative", "title": null},
  "x2": {"datum": 245},
  "y": {"datum": -3700, "type": "quantitative", "title": null},
  "y2": {"datum": -20000}
 }},
{"data": {"name": "candles"},
 "mark": {"type": "bar", "width": 3, "color": "#008000"},
 "encoding": {
  "x": {"field": "i", "type": "quantitative", "title": null, "scale": {"domain": [-0.5, 219.5], "nice": false, "zero": false},
   "axis": {"orient": "bottom", "offset": 8, "values": [-0.5,4.5,9.5,14.5,19.5,24.5,29.5,30.5,34.5,39.5,44.5,49.5,53.7,54.5,59.5,64.5,69.5,74.5,79.5,84.5,89.5,94.5,97,99.5,104,109.5,114,119.5,124.5,129.5,134,139.5,144.5,149.5,154.5,157,159.5,164.5,169.5,174.5,177,182.5,187.5,192,197,202,207,212.3,217.4], "tickCount": 200, "labelExpr": "datum.value == -0.5 ? 'st' : datum.value == 9.5 ? 'September' : datum.value == 53.7 ? 'November' : datum.value == 97 ? '2020' : datum.value == 114 ? 'February' : datum.value == 134 ? 'March' : datum.value == 157 ? 'April' : datum.value == 177 ? 'May' : datum.value == 197 ? 'June' : ''", "tickSize": 10, "labelPadding": 2, "grid": false, "title": null, "domainColor": "black", "domainWidth": 1.5, "tickColor": "black", "tickWidth": 1.5, "labelFontSize": 22, "labelColor": "#222222", "labelAlign": {"condition": {"test": "datum.value == -0.5", "value": "center"}, "value": "left"}, "labelBaseline": "top", "labelOffset": 3, "labelOverlap": false, "labelBound": false, "labelFlush": false}},
  "y": {"field": "v", "type": "quantitative", "title": null, "scale": {"domain": [-510, 53730], "nice": false, "zero": false},
   "axis": {"orient": "right", "values": [5000,10000,15000,20000,25000,30000,35000,40000,45000,50000], "tickCount": 200, "labelExpr": "datum.value % 10000 == 0 && datum.value <= 40000 ? '' + datum.value : ''", "tickSize": {"condition": {"test": "datum.value % 10000 == 0", "value": 15}, "value": 7}, "labelPadding": 5, "grid": false, "title": null, "domainColor": "black", "domainWidth": 1.5, "tickColor": "black", "tickWidth": 1.5, "labelFontSize": 22, "labelColor": "#222222", "labelAlign": "left", "labelBaseline": "middle", "labelOffset": 1, "labelOverlap": false, "labelBound": false, "labelFlush": false}},
  "y2": {"datum": 0}
 }},
{"data": {"name": "vma"},
 "mark": {"type": "line", "color": "#ff0000", "strokeWidth": 3},
 "encoding": {
  "x": {"field": "t", "type": "quantitative", "title": null},
  "y": {"field": "w", "type": "quantitative", "title": null}
 }},
{"data": {"name": "months"},
 "mark": {"type": "rule", "color": "black", "strokeWidth": 1.5},
 "encoding": {
  "x": {"field": "t", "type": "quantitative", "title": null},
  "y": {"datum": -3220, "type": "quantitative", "title": null},
  "y2": {"datum": -16500}
 }},
{"data": {"values": [{}]},
 "mark": {"type": "rect", "fill": "#ffffff", "stroke": "black", "strokeWidth": 1},
 "encoding": {
  "x": {"datum": 220.3, "type": "quantitative", "title": null},
  "x2": {"datum": 230.4},
  "y": {"datum": 4700, "type": "quantitative", "title": null},
  "y2": {"datum": -3100}
 }},
{"data": {"values": [{}]},
 "mark": {"type": "text", "text": "x1000", "align": "left", "baseline": "middle", "fontSize": 17, "color": "#222222"},
 "encoding": {
  "x": {"datum": 220.6, "type": "quantitative", "title": null},
  "y": {"datum": 700, "type": "quantitative", "title": null}
 }}
]
}
]
}
